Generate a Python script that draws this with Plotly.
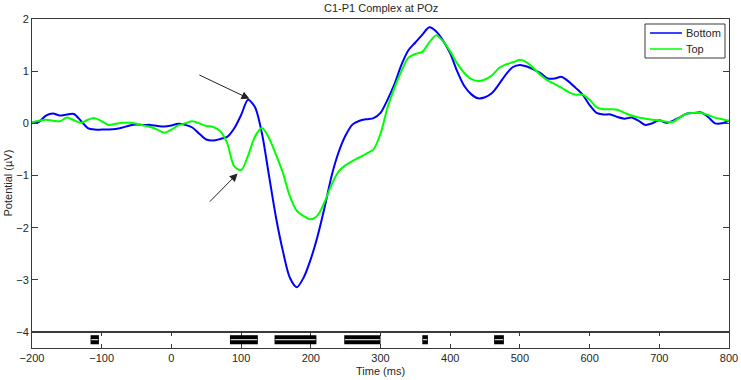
import plotly.graph_objects as go

# ---- data ----
time_ms = [-200, -190, -180, -170, -160, -150, -140, -130, -120, -110, -100, -90, -80, -70, -60, -50,
           -40, -30, -20, -10, 0, 10, 20, 30, 40, 50, 60, 70, 80, 90, 100, 110, 120, 130, 140, 150,
           160, 170, 180, 190, 200, 210, 220, 230, 240, 250, 260, 270, 280, 290, 300, 310, 320, 330,
           340, 350, 360, 370, 380, 390, 400, 410, 420, 430, 440, 450, 460, 470, 480, 490, 500, 510,
           520, 530, 540, 550, 560, 570, 580, 590, 600, 610, 620, 630, 640, 650, 660, 670, 680, 690,
           700, 710, 720, 730, 740, 750, 760, 770, 780, 790, 800]

bottom_uv = [0.01, 0.03, 0.15, 0.19, 0.15, 0.17, 0.18, 0.05, -0.09, -0.12, -0.12, -0.12, -0.11, -0.08,
             -0.04, -0.02, -0.03, -0.03, -0.05, -0.06, -0.04, -0.01, -0.03, -0.08, -0.20, -0.31, -0.33,
             -0.30, -0.26, -0.10, 0.16, 0.45, 0.31, -0.20, -1.00, -1.80, -2.45, -2.96, -3.14, -2.95,
             -2.60, -2.15, -1.60, -1.00, -0.55, -0.23, -0.02, 0.05, 0.08, 0.10, 0.20, 0.45, 0.75, 1.12,
             1.40, 1.55, 1.70, 1.84, 1.76, 1.58, 1.34, 1.00, 0.72, 0.56, 0.48, 0.50, 0.58, 0.75, 0.94,
             1.08, 1.12, 1.09, 1.03, 0.96, 0.86, 0.86, 0.89, 0.80, 0.68, 0.55, 0.35, 0.20, 0.17, 0.17,
             0.12, 0.09, 0.11, 0.05, -0.03, 0.00, 0.06, 0.01, 0.05, 0.12, 0.19, 0.20, 0.21, 0.12, 0.00,
             0.00, 0.05]

top_uv = [0.02, 0.05, 0.07, 0.05, 0.04, 0.11, 0.06, 0.01, 0.07, 0.10, 0.04, -0.03, -0.01, 0.01, 0.01,
          -0.01, -0.04, -0.07, -0.12, -0.18, -0.12, -0.04, 0.00, 0.04, 0.00, -0.05, -0.07, -0.15, -0.38,
          -0.82, -0.90, -0.62, -0.25, -0.09, -0.28, -0.60, -0.95, -1.40, -1.68, -1.78, -1.84, -1.76,
          -1.50, -1.17, -0.92, -0.80, -0.72, -0.65, -0.58, -0.50, -0.20, 0.30, 0.68, 1.00, 1.26, 1.33,
          1.37, 1.55, 1.69, 1.57, 1.38, 1.15, 0.97, 0.85, 0.81, 0.84, 0.92, 1.06, 1.13, 1.17, 1.22,
          1.17, 1.05, 0.92, 0.82, 0.75, 0.68, 0.60, 0.55, 0.55, 0.45, 0.31, 0.27, 0.27, 0.26, 0.20,
          0.15, 0.11, 0.09, 0.07, 0.06, 0.03, 0.03, 0.12, 0.19, 0.20, 0.20, 0.16, 0.11, 0.08, 0.05]

series_names = ["Bottom", "Top"]
series_colors = ["#0000ff", "#00ff00"]

sig_start = [-116, 84, 148, 248, 360, 463]
sig_end = [-104, 124, 208, 300, 368, 477]

x_ticks = [-200, -100, 0, 100, 200, 300, 400, 500, 600, 700, 800]
y_ticks = [-4, -3, -2, -1, 0, 1, 2]

FONT = "Liberation Sans, Arial, sans-serif"
AX = "#3a3a3a"
PW, PH = 697, 329  # plot area size in px

fig = go.Figure()
for name, vals, col in zip(series_names, [bottom_uv, top_uv], series_colors):
    fig.add_trace(go.Scatter(x=time_ms, y=vals, name=name, mode="lines",
                             line=dict(color=col, width=2, shape="spline", smoothing=0.8),
                             xaxis="x2", yaxis="y", showlegend=False))

# significance bars in strip axes
for s, e in zip(sig_start, sig_end):
    fig.add_shape(type="rect", xref="x", yref="y2", x0=s, x1=e, y0=-0.23, y1=-0.06,
                  fillcolor="black", line=dict(width=0))
    fig.add_shape(type="line", xref="x", yref="y2", x0=s + 1, x1=e - 1, y0=-0.145, y1=-0.145,
                  line=dict(color="white", width=1))

# arrows
fig.add_annotation(x=112, y=0.47, ax=38, ay=0.94, xref="x2", yref="y", axref="x2", ayref="y",
                   text="", showarrow=True, arrowhead=2, arrowsize=1.6, arrowwidth=1, arrowcolor="#222")
fig.add_annotation(x=95, y=-0.96, ax=53, ay=-1.53, xref="x2", yref="y", axref="x2", ayref="y",
                   text="", showarrow=True, arrowhead=2, arrowsize=1.6, arrowwidth=1, arrowcolor="#222")

# manual legend (paper coords derived from pixel offsets inside plot area)
def px(xp):
    return (xp - 32) / PW

def py(yp):
    return 1 - (yp - 19) / PH

fig.add_shape(type="rect", xref="paper", yref="paper", x0=px(645), x1=px(725), y0=py(58), y1=py(24),
              fillcolor="white", line=dict(color=AX, width=1))
for i, (name, col) in enumerate(zip(series_names, series_colors)):
    yy = 33 + 16 * i
    fig.add_shape(type="line", xref="paper", yref="paper", x0=px(650), x1=px(682), y0=py(yy), y1=py(yy),
                  line=dict(color=col, width=1.5))
    fig.add_annotation(text=name, xref="paper", yref="paper", x=px(684), y=py(yy), showarrow=False,
                       xanchor="left", yanchor="middle", font=dict(size=11, color="#262626"))

strip_h = 16 / PH

fig.update_layout(
    width=741, height=380,
    margin=dict(l=32, r=12, t=19, b=32, autoexpand=False),
    paper_bgcolor="white", plot_bgcolor="white",
    font=dict(family=FONT, size=11, color="#262626"),
    showlegend=False,
    xaxis=dict(domain=[0, 1], range=[-200, 800], anchor="y2", tickvals=x_ticks,
               ticks="inside", ticklen=4, tickcolor=AX, mirror="allticks", automargin=False,
               showline=True, linecolor=AX, linewidth=1, showgrid=False, zeroline=False,
               tickfont=dict(size=11)),
    xaxis2=dict(domain=[0, 1], range=[-200, 800], anchor="y", matches="x", automargin=False,
                showticklabels=False, ticks="", showline=True, mirror=True, linecolor=AX,
                linewidth=1, showgrid=False, zeroline=False),
    yaxis=dict(domain=[strip_h, 1], range=[-4, 2], anchor="x2", tickvals=y_ticks,
               ticks="inside", ticklen=6, tickcolor=AX, mirror="allticks", automargin=False,
               showline=True, linecolor=AX, linewidth=1, showgrid=False, zeroline=False,
               tickfont=dict(size=11)),
    yaxis2=dict(domain=[0, strip_h], range=[-0.3, 0], anchor="x", showticklabels=False,
                ticks="", showline=True, mirror=True, linecolor=AX, linewidth=1, automargin=False,
                showgrid=False, zeroline=False),
)
fig.add_annotation(text="C1-P1 Complex at POz", xref="paper", yref="paper", x=0.5, y=1 + 11 / PH,
                   showarrow=False, font=dict(size=11), xanchor="center", yanchor="middle")
fig.add_annotation(text="Time (ms)", xref="paper", yref="paper", x=0.5, y=-23 / PH,
                   showarrow=False, font=dict(size=11), xanchor="center", yanchor="middle")
fig.add_annotation(text="Potential (µV)", xref="paper", yref="paper", x=-25 / PW, y=0.5,
                   showarrow=False, font=dict(size=11), textangle=-90, xanchor="center",
                   yanchor="middle")

fig.write_html("out.html", config={"displayModeBar": False},
               post_script="document.body.style.margin='0';")
